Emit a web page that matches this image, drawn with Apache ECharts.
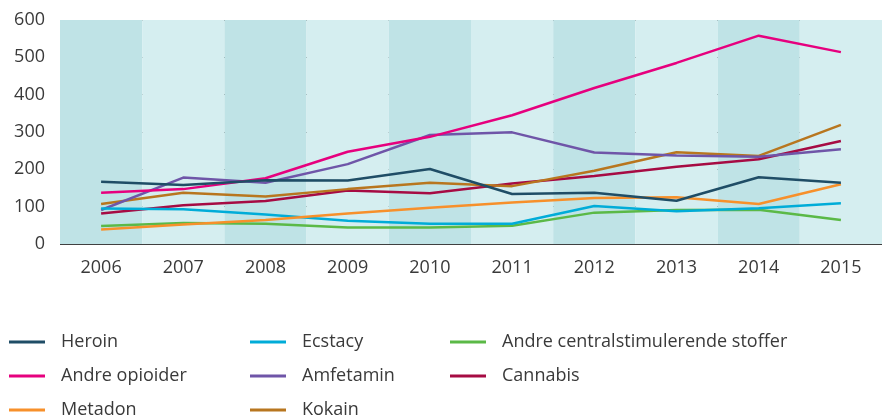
<!DOCTYPE html>
<html><head><meta charset="utf-8">
<script src="https://cdn.jsdelivr.net/npm/echarts@6/dist/echarts.min.js"></script>
<style>html,body{margin:0;padding:0;background:#fff}#c{width:882px;height:416px}</style>
</head><body><div id="c"></div>
<script>
const years = ['2006','2007','2008','2009','2010','2011','2012','2013','2014','2015'];
const heroin = [167,158,171,170,201,134,137,116,179,164];
const andreOpioider = [137,147,176,247,287,345,418,485,558,514];
const metadon = [39,52,64,82,97,111,123,125,107,160];
const ecstacy = [95,93,79,62,54,54,102,88,96,109];
const amfetamin = [91,178,164,214,292,299,245,237,234,254];
const kokain = [107,137,127,147,164,155,196,246,236,319];
const andreCentral = [48,56,54,44,44,49,84,91,92,64];
const cannabis = [82,104,115,143,136,162,182,207,227,276];
const yTicks = [0,100,200,300,400,500,600];

const names = ['Heroin','Andre opioider','Metadon','Ecstacy','Amfetamin','Kokain','Andre centralstimulerende stoffer','Cannabis'];
const datas = [heroin,andreOpioider,metadon,ecstacy,amfetamin,kokain,andreCentral,cannabis];
const colors = ['#1f4d66','#e6007e','#f7902b','#00acd8','#6f55a8','#b8761f','#5bb947','#a60b43'];

const font = 'Open Sans';
const legendBase = {
  orient:'vertical', top:332, height:110, padding:0, itemWidth:36, itemHeight:3, icon:'rect', itemGap:14,
  textStyle:{fontFamily:font, fontSize:18, color:'#3a3a3a', lineHeight:20, padding:[0,0,0,11]}
};
const chart = echarts.init(document.getElementById('c'));
chart.setOption({
  animation:false,
  color: colors,
  grid:{left:60, top:20, width:832, height:224, containLabel:false},
  legend:[
    Object.assign({}, legendBase, {left:9, data:['Heroin','Andre opioider','Metadon']}),
    Object.assign({}, legendBase, {left:250, data:['Ecstacy','Amfetamin','Kokain']}),
    Object.assign({}, legendBase, {left:450, data:['Andre centralstimulerende stoffer','Cannabis']})
  ],
  xAxis:{type:'category', data:years, boundaryGap:true,
    axisLine:{show:false}, axisTick:{show:false},
    axisLabel:{fontFamily:font, fontSize:18, color:'#3a3a3a', margin:15},
    splitArea:{show:true, areaStyle:{color:['#bfe3e6','#d5eef0']}}
  },
  yAxis:{type:'value', min:yTicks[0], max:yTicks[yTicks.length-1], interval:100,
    axisLine:{show:false}, axisTick:{show:false},
    axisLabel:{fontFamily:font, fontSize:18, color:'#3a3a3a', margin:15},
    splitLine:{show:true, lineStyle:{color:'#404040', width:1}}
  },
  series: names.map((n,i)=>({
    name:n, type:'line', data:datas[i], symbol:'none', z:10-i,
    lineStyle:{width:2.5, color:colors[i]}, itemStyle:{color:colors[i]}
  }))
});
</script></body></html>
